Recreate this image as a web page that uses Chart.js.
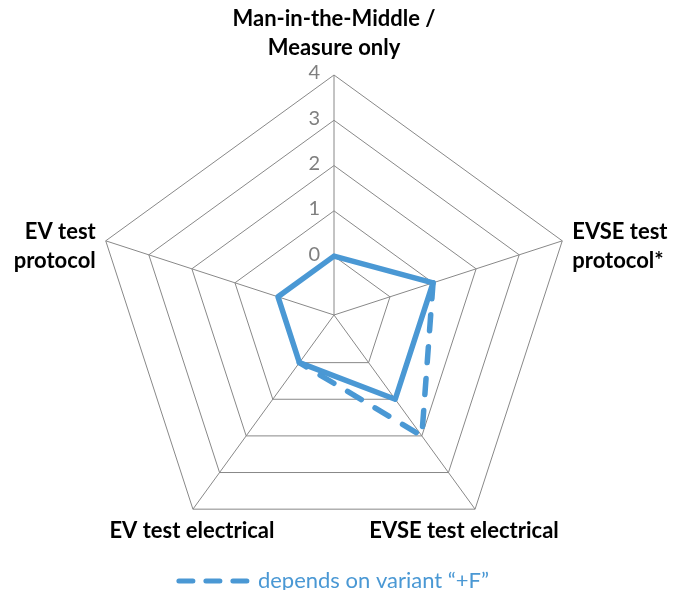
<!DOCTYPE html>
<html>
<head>
<meta charset="utf-8">
<script src="https://cdn.jsdelivr.net/npm/chart.js@4/dist/chart.umd.min.js"></script>
<style>
  html, body { margin: 0; padding: 0; background: #ffffff; }
  #wrap { width: 683px; height: 590px; }
</style>
</head>
<body>
<div id="wrap"><canvas id="c" width="683" height="590"></canvas></div>
<script>
// ---- data ----
const categories = [
  ["Man-in-the-Middle /", "Measure only"],
  ["EVSE test", "protocol*"],
  ["EVSE test electrical"],
  ["EV test electrical"],
  ["EV test", "protocol"]
];
const baseValues = [0, 1, 1, 0, 0];
const variantFValues = [null, 1, 2, 0, null];
const variantFLabel = "depends on variant \u201C+F\u201D";
const tickValues = [0, 1, 2, 3, 4];
const scaleMin = -1.3;
const scaleMax = 4;

const BLUE = '#4a98d4';
const GRID = '#888888';

const labelPlugin = {
  id: 'labelPlugin',
  afterDraw(chart) {
    const s = chart.scales.r;
    const ctx = chart.ctx;
    ctx.save();
    // tick labels on the top spoke, left of it
    ctx.font = '20px Lato';
    ctx.fillStyle = '#7f7f7f';
    ctx.textAlign = 'right';
    ctx.textBaseline = 'middle';
    tickValues.forEach(v => {
      const p = s.getPointPositionForValue(0, v);
      ctx.fillText(String(v), p.x - 14, p.y - 2);
    });
    // category labels
    ctx.font = 'bold 22px Lato';
    ctx.fillStyle = '#000000';
    ctx.textBaseline = 'alphabetic';
    const lh = 29;
    categories.forEach((lines, i) => {
      const v = s.getPointPositionForValue(i, scaleMax);
      let x, y0, align;
      if (i === 0) { align = 'center'; x = v.x; y0 = v.y - 20 - lh * (lines.length - 1); }
      else if (i === 1) { align = 'left'; x = v.x + 10; y0 = v.y - 2; }
      else if (i === 2) { align = 'center'; x = v.x - 11; y0 = v.y + 29; }
      else if (i === 3) { align = 'center'; x = v.x - 1; y0 = v.y + 29; }
      else { align = 'right'; x = v.x - 10; y0 = v.y - 2; }
      ctx.textAlign = align;
      lines.forEach((t, k) => ctx.fillText(t, x, y0 + k * lh));
    });
    ctx.restore();
  }
};

new Chart(document.getElementById('c'), {
  type: 'radar',
  data: {
    labels: categories,
    datasets: [
      {
        label: 'base',
        data: baseValues,
        borderColor: BLUE,
        backgroundColor: 'rgba(0,0,0,0)',
        borderWidth: 5.5,
        borderJoinStyle: 'round',
        pointRadius: 0,
        fill: false
      },
      {
        label: variantFLabel,
        data: variantFValues,
        borderColor: BLUE,
        backgroundColor: 'rgba(0,0,0,0)',
        borderWidth: 5.5,
        borderDash: [16, 16],
        borderCapStyle: 'round',
        pointRadius: 0,
        fill: false,
        spanGaps: false
      }
    ]
  },
  options: {
    responsive: false,
    animation: false,
    events: [],
    layout: { padding: { top: 75, left: 0, right: 15, bottom: -12 } },
    plugins: {
      tooltip: { enabled: false },
      legend: {
        display: true,
        position: 'bottom',
        labels: {
          usePointStyle: true,
          pointStyleWidth: 68,
          padding: 15,
          color: BLUE,
          font: { family: 'Lato', size: 22 },
          generateLabels(chart) {
            const items = Chart.defaults.plugins.legend.labels.generateLabels(chart);
            return items.filter(it => it.datasetIndex === 1).map(it => Object.assign(it, {
              pointStyle: 'line',
              lineDash: [14, 13],
              lineCap: 'round',
              lineWidth: 5,
              strokeStyle: BLUE
            }));
          }
        }
      }
    },
    scales: {
      r: {
        min: scaleMin,
        max: scaleMax,
        afterBuildTicks(scale) { scale.ticks = tickValues.map(v => ({ value: v })); },
        ticks: { display: false },
        pointLabels: { display: false },
        grid: { color: GRID, lineWidth: 1 },
        angleLines: { color: GRID, lineWidth: 1 }
      }
    }
  },
  plugins: [labelPlugin]
});
</script>
</body>
</html>
